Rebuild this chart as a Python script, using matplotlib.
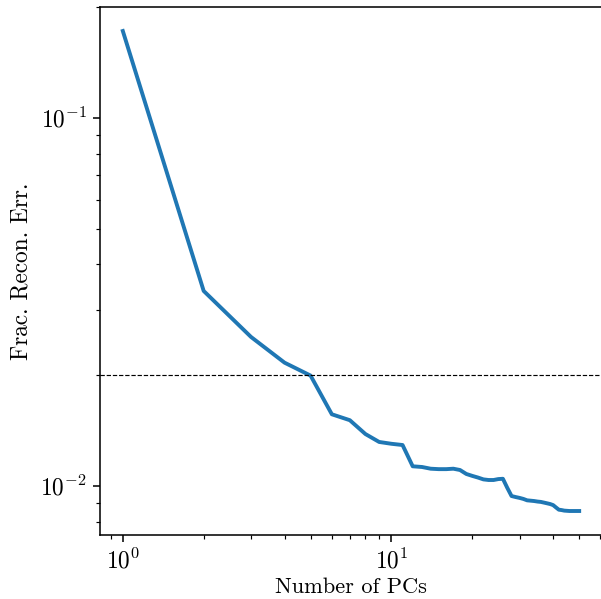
import matplotlib

matplotlib.use("Agg")
import matplotlib.pyplot as plt

plt.rcParams["font.family"] = "serif"
plt.rcParams["font.serif"] = ["cmr10"]
plt.rcParams["mathtext.fontset"] = "cm"
plt.rcParams["axes.formatter.use_mathtext"] = True
plt.rcParams["axes.unicode_minus"] = False
plt.rcParams["font.size"] = 12

n_pcs = list(range(1, 51))
frac_err = [
    0.1723, 0.03388, 0.02541, 0.02163, 0.01995, 0.01566, 0.01509, 0.01384, 0.01317, 0.01302,
    0.01292, 0.01131, 0.01126, 0.01114, 0.01111, 0.01111, 0.01114, 0.01105, 0.01078, 0.01065,
    0.01054, 0.01042, 0.01038, 0.01038, 0.01044, 0.01046, 0.00988, 0.00939, 0.00933, 0.00928,
    0.00922, 0.00914, 0.00912, 0.00910, 0.00907, 0.00905, 0.00901, 0.00897, 0.00893, 0.00887,
    0.00874, 0.00862, 0.00860, 0.00857, 0.00856, 0.00855, 0.00855, 0.00855, 0.00855, 0.00855,
]
threshold = 0.02

DPI = 140
fig = plt.figure(figsize=(601 / DPI, 599 / DPI), dpi=DPI)
ax = fig.add_axes([100 / 601, 1 - 535 / 599, 502 / 601, 528 / 599])

ax.plot(n_pcs, frac_err, color="#1f77b4", lw=2)
ax.axhline(threshold, color="k", ls="--", lw=0.6)
ax.set_xscale("log")
ax.set_yscale("log")

ax.set_xlabel("Number of PCs", fontsize=11.5, labelpad=2)
ax.set_ylabel("Frac. Recon. Err.", fontsize=12, labelpad=4)

fig.savefig("out.png", dpi=DPI)
